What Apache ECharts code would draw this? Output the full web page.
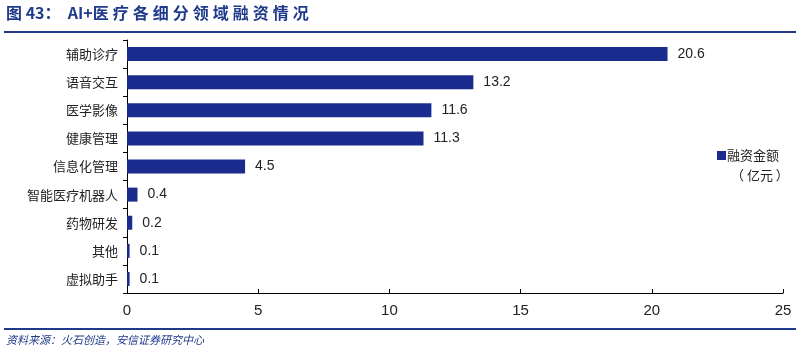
<!DOCTYPE html>
<html>
<head>
<meta charset="utf-8">
<script src="https://cdn.jsdelivr.net/npm/echarts@6/dist/echarts.min.js"></script>
<style>
  html, body { margin: 0; padding: 0; background: #fff; }
  #chart { width: 800px; height: 353px; }
</style>
</head>
<body>
<div id="chart"></div>
<script>
  // 数据
  const categories = ['辅助诊疗', '语音交互', '医学影像', '健康管理', '信息化管理', '智能医疗机器人', '药物研发', '其他', '虚拟助手'];
  const values = [20.6, 13.2, 11.6, 11.3, 4.5, 0.4, 0.2, 0.1, 0.1];
  const xTicks = [0, 5, 10, 15, 20, 25];
  const seriesName = '融资金额';

  const font = '"Noto Sans CJK SC", "Liberation Sans", sans-serif';
  const numFont = '"Liberation Sans", Arial, sans-serif';
  const barColor = '#1a2d8f';
  const titleColor = '#1f3a8a';

  // 标题字间距稍大
  const spaced = s => s.split('').join('\u2005');

  const chart = echarts.init(document.getElementById('chart'));
  chart.setOption({
    animation: false,
    textStyle: {fontFamily: font},
    graphic: [
      {
        type: 'text', left: 6, top: 5,
        style: {text: '图 43：  AI+' + spaced('医疗各细分领域融资情况'), fill: titleColor, font: 'bold 16px ' + font}
      },
      {type: 'rect', shape: {x: 4, y: 31, width: 792, height: 2}, style: {fill: titleColor}},
      {type: 'rect', shape: {x: 4, y: 328, width: 792, height: 2}, style: {fill: titleColor}},
      {
        type: 'text', left: 6, top: 334,
        style: {text: '资料来源：火石创造，安信证券研究中心', fill: titleColor, font: 'italic 11px ' + font}
      },
      {
        type: 'text', left: 731, top: 169,
        style: {text: '（ 亿元 ）', fill: '#222', font: '13px ' + font}
      }
    ],
    legend: {
      data: [seriesName],
      left: 712, top: 144,
      orient: 'vertical',
      itemWidth: 9, itemHeight: 9, itemGap: 4,
      icon: 'rect',
      textStyle: {fontSize: 13, color: '#222', padding: [0, 0, 0, -4]}
    },
    grid: {left: 127, right: 17, top: 40, bottom: 60, containLabel: false},
    xAxis: {
      type: 'value',
      min: 0, max: 25, interval: 5,
      axisLine: {show: true, lineStyle: {color: '#000', width: 1}},
      axisTick: {show: true, inside: true, length: 4, lineStyle: {color: '#000'}},
      splitLine: {show: false},
      axisLabel: {
        fontSize: 15, color: '#222', margin: 10, fontFamily: numFont,
        formatter: v => xTicks.includes(v) ? String(v) : ''
      }
    },
    yAxis: {
      type: 'category',
      data: categories,
      inverse: true,
      axisLine: {show: true, lineStyle: {color: '#000', width: 1}},
      axisTick: {show: true, length: 4, lineStyle: {color: '#000'}},
      axisLabel: {fontSize: 13, color: '#222', margin: 9}
    },
    series: [{
      name: seriesName,
      type: 'bar',
      data: values,
      barWidth: 14,
      itemStyle: {color: barColor},
      label: {show: true, position: 'right', distance: 10, fontSize: 14, color: '#222', fontFamily: numFont}
    }]
  });
</script>
</body>
</html>
